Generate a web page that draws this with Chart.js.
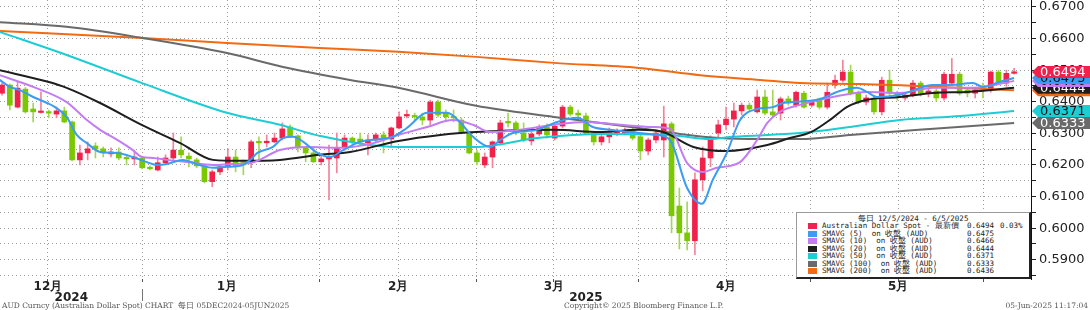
<!DOCTYPE html>
<html>
<head>
<meta charset="utf-8">
<title>AUD Curncy</title>
<script src="https://cdn.jsdelivr.net/npm/chart.js@4.4.1/dist/chart.umd.min.js"></script>
<style>
  body { margin: 0; background: #fff; }
  #wrap { position: relative; width: 1090px; height: 310px; overflow: hidden; }
  #audChart { display: block; }
  #legend { position: absolute; left: 796px; top: 212px; width: 235px; height: 67px; box-sizing: border-box; background: #fff;
    border: 1px solid #9a9a9a; border-right: 2px solid #222; border-bottom: 2px solid #222; overflow: hidden;
    font-family: 'DejaVu Sans Mono', monospace; font-size: 7.5px; color: #222; white-space: pre; }
  #legend div { position: absolute; line-height: 8px; height: 8px; }
  #legend .title { left: 0; right: 0; text-align: center; top: 2px; }
  #legend .sw { width: 9px; height: 6px; left: 11px; margin-top: 1px; }
  .foot { position: absolute; top: 301px; font-family: 'DejaVu Serif', serif; font-size: 7.5px; color: #555; white-space: pre; line-height: 9px; }
</style>
</head>
<body>
<div id="wrap">
  <canvas id="audChart" width="1090" height="310"></canvas>
  <div id="legend"></div>
  <div class="foot" style="left:2px">AUD Curncy (Australian Dollar Spot) CHART  每日 05DEC2024-05JUN2025</div>
  <div class="foot" style="left:564px">Copyright© 2025 Bloomberg Finance L.P.</div>
  <div class="foot" style="right:2px">05-Jun-2025 11:17:04</div>
</div>
<script>
// daily candles, 5 Dec 2024 .. 5 Jun 2025 (index = trading day) : [open, high, low, close]
const audOHLC = [
  [0.6427, 0.6459, 0.6421, 0.6453], [0.6453, 0.6456, 0.6374, 0.6389], [0.6383, 0.6462, 0.6380, 0.6443],
  [0.6440, 0.6445, 0.6364, 0.6368], [0.6377, 0.6396, 0.6336, 0.6368], [0.6366, 0.6431, 0.6364, 0.6370],
  [0.6368, 0.6374, 0.6349, 0.6364], [0.6361, 0.6383, 0.6349, 0.6371], [0.6371, 0.6383, 0.6333, 0.6336],
  [0.6336, 0.6339, 0.6213, 0.6216], [0.6216, 0.6263, 0.6200, 0.6238], [0.6238, 0.6273, 0.6216, 0.6251],
  [0.6260, 0.6270, 0.6222, 0.6251], [0.6251, 0.6257, 0.6225, 0.6238], [0.6235, 0.6254, 0.6225, 0.6241],
  [0.6241, 0.6254, 0.6216, 0.6222], [0.6222, 0.6232, 0.6200, 0.6219], [0.6219, 0.6247, 0.6200, 0.6225],
  [0.6222, 0.6228, 0.6187, 0.6191], [0.6191, 0.6197, 0.6184, 0.6188], [0.6184, 0.6225, 0.6181, 0.6207],
  [0.6207, 0.6232, 0.6204, 0.6222], [0.6222, 0.6301, 0.6216, 0.6247], [0.6247, 0.6289, 0.6222, 0.6232],
  [0.6228, 0.6238, 0.6194, 0.6219], [0.6216, 0.6222, 0.6191, 0.6197], [0.6197, 0.6200, 0.6143, 0.6147],
  [0.6147, 0.6184, 0.6131, 0.6178], [0.6178, 0.6200, 0.6169, 0.6194], [0.6194, 0.6251, 0.6184, 0.6225],
  [0.6225, 0.6247, 0.6178, 0.6194], [0.6210, 0.6216, 0.6169, 0.6200], [0.6210, 0.6279, 0.6191, 0.6273],
  [0.6273, 0.6289, 0.6216, 0.6270], [0.6270, 0.6295, 0.6257, 0.6275], [0.6273, 0.6301, 0.6270, 0.6285],
  [0.6285, 0.6333, 0.6279, 0.6314], [0.6320, 0.6327, 0.6289, 0.6292], [0.6292, 0.6295, 0.6241, 0.6254],
  [0.6254, 0.6257, 0.6210, 0.6238], [0.6238, 0.6254, 0.6207, 0.6210], [0.6210, 0.6232, 0.6200, 0.6219],
  [0.6219, 0.6263, 0.6089, 0.6225], [0.6222, 0.6301, 0.6175, 0.6254], [0.6254, 0.6295, 0.6247, 0.6285],
  [0.6285, 0.6289, 0.6254, 0.6273], [0.6282, 0.6301, 0.6263, 0.6273], [0.6270, 0.6295, 0.6232, 0.6279],
  [0.6279, 0.6301, 0.6270, 0.6295], [0.6295, 0.6305, 0.6238, 0.6282], [0.6282, 0.6320, 0.6257, 0.6317],
  [0.6317, 0.6368, 0.6314, 0.6352], [0.6355, 0.6374, 0.6349, 0.6358], [0.6355, 0.6364, 0.6342, 0.6352],
  [0.6352, 0.6364, 0.6327, 0.6342], [0.6342, 0.6405, 0.6327, 0.6399], [0.6399, 0.6405, 0.6352, 0.6358],
  [0.6364, 0.6374, 0.6342, 0.6352], [0.6352, 0.6374, 0.6336, 0.6349], [0.6342, 0.6349, 0.6298, 0.6301],
  [0.6301, 0.6305, 0.6235, 0.6238], [0.6238, 0.6247, 0.6200, 0.6210], [0.6200, 0.6238, 0.6191, 0.6225],
  [0.6225, 0.6276, 0.6191, 0.6273], [0.6270, 0.6342, 0.6263, 0.6333], [0.6336, 0.6364, 0.6320, 0.6333],
  [0.6333, 0.6339, 0.6295, 0.6301], [0.6301, 0.6333, 0.6273, 0.6279], [0.6276, 0.6305, 0.6263, 0.6298],
  [0.6298, 0.6327, 0.6292, 0.6320], [0.6320, 0.6330, 0.6285, 0.6295], [0.6285, 0.6330, 0.6279, 0.6323],
  [0.6323, 0.6389, 0.6317, 0.6383], [0.6383, 0.6389, 0.6355, 0.6361], [0.6364, 0.6374, 0.6342, 0.6358],
  [0.6355, 0.6364, 0.6298, 0.6301], [0.6301, 0.6305, 0.6263, 0.6273], [0.6273, 0.6298, 0.6263, 0.6289],
  [0.6289, 0.6317, 0.6270, 0.6301], [0.6301, 0.6314, 0.6292, 0.6305], [0.6301, 0.6317, 0.6295, 0.6307],
  [0.6310, 0.6320, 0.6279, 0.6285], [0.6289, 0.6295, 0.6216, 0.6244], [0.6244, 0.6285, 0.6232, 0.6279],
  [0.6279, 0.6310, 0.6270, 0.6301], [0.6279, 0.6386, 0.6225, 0.6330], [0.6330, 0.6336, 0.5985, 0.6039],
  [0.6070, 0.6127, 0.5934, 0.5985], [0.5985, 0.6083, 0.5931, 0.5960], [0.5960, 0.6175, 0.5916, 0.6153],
  [0.6153, 0.6257, 0.6118, 0.6222], [0.6222, 0.6292, 0.6194, 0.6279], [0.6301, 0.6342, 0.6285, 0.6327],
  [0.6327, 0.6383, 0.6311, 0.6345], [0.6345, 0.6396, 0.6320, 0.6371], [0.6371, 0.6396, 0.6358, 0.6389],
  [0.6389, 0.6396, 0.6371, 0.6377], [0.6368, 0.6437, 0.6364, 0.6415], [0.6415, 0.6437, 0.6358, 0.6364],
  [0.6368, 0.6437, 0.6349, 0.6358], [0.6364, 0.6415, 0.6342, 0.6409], [0.6409, 0.6418, 0.6389, 0.6396],
  [0.6389, 0.6434, 0.6383, 0.6430], [0.6427, 0.6434, 0.6380, 0.6383], [0.6389, 0.6405, 0.6383, 0.6399],
  [0.6409, 0.6412, 0.6377, 0.6383], [0.6383, 0.6459, 0.6377, 0.6430], [0.6453, 0.6484, 0.6443, 0.6468],
  [0.6468, 0.6532, 0.6462, 0.6494], [0.6494, 0.6516, 0.6421, 0.6427], [0.6427, 0.6434, 0.6393, 0.6399],
  [0.6399, 0.6421, 0.6390, 0.6412], [0.6412, 0.6418, 0.6361, 0.6368], [0.6368, 0.6478, 0.6358, 0.6468],
  [0.6468, 0.6500, 0.6418, 0.6427], [0.6427, 0.6434, 0.6405, 0.6418], [0.6412, 0.6430, 0.6405, 0.6421],
  [0.6421, 0.6468, 0.6415, 0.6459], [0.6459, 0.6465, 0.6418, 0.6427], [0.6427, 0.6443, 0.6415, 0.6434],
  [0.6434, 0.6440, 0.6402, 0.6412], [0.6412, 0.6494, 0.6405, 0.6487], [0.6459, 0.6537, 0.6453, 0.6487],
  [0.6487, 0.6494, 0.6421, 0.6427], [0.6437, 0.6443, 0.6415, 0.6427], [0.6427, 0.6446, 0.6412, 0.6437],
  [0.6438, 0.6459, 0.6412, 0.6435], [0.6437, 0.6497, 0.6430, 0.6494], [0.6494, 0.6500, 0.6453, 0.6459],
  [0.6459, 0.6500, 0.6449, 0.6490], [0.6490, 0.6506, 0.6487, 0.6494]
];

const sma5 = [
  [-0.3, 0.6469], [1.0, 0.6447], [2.3, 0.6437], [4.0, 0.6415], [5.8, 0.6396], [6.8, 0.6383], [8.3, 0.6352],
  [9.6, 0.6295], [10.9, 0.6269], [12.6, 0.6241], [14.8, 0.6238], [16.8, 0.6225], [18.6, 0.6209], [19.9, 0.6200],
  [21.2, 0.6203], [23.2, 0.6216], [25.4, 0.6200], [27.1, 0.6191], [28.9, 0.6194], [30.6, 0.6197], [31.9, 0.6216],
  [32.8, 0.6238], [34.8, 0.6257], [36.1, 0.6285], [37.4, 0.6289], [38.7, 0.6273], [40.5, 0.6238], [42.1, 0.6225],
  [43.8, 0.6247], [46.0, 0.6273], [48.6, 0.6282], [50.2, 0.6289], [52.0, 0.6317], [54.6, 0.6365], [57.2, 0.6365],
  [58.8, 0.6336], [60.5, 0.6289], [62.7, 0.6257], [64.0, 0.6279], [65.6, 0.6301], [68.7, 0.6311], [71.3, 0.6336],
  [73.9, 0.6349], [75.9, 0.6320], [78.1, 0.6311], [80.7, 0.6304], [84.1, 0.6295], [85.8, 0.6279], [88.0, 0.6127],
  [89.9, 0.6077], [91.3, 0.6153], [93.1, 0.6238], [94.8, 0.6342], [97.0, 0.6377], [99.0, 0.6383], [100.3, 0.6396],
  [104.7, 0.6406], [107.6, 0.6434], [109.8, 0.6444], [111.1, 0.6431], [112.4, 0.6415], [115.3, 0.6422],
  [119.6, 0.6453], [121.8, 0.6453], [124.7, 0.6459], [126.0, 0.6447], [128.2, 0.6463], [130, 0.6475]
];
const sma10 = [
  [-0.3, 0.6484], [4.0, 0.6447], [8.3, 0.6399], [10.9, 0.6342], [12.6, 0.6311], [14.8, 0.6279], [16.8, 0.6247],
  [18.0, 0.6225], [19.4, 0.6222], [21.2, 0.6216], [23.8, 0.6209], [27.1, 0.6200], [29.7, 0.6203], [31.9, 0.6206],
  [35.7, 0.6247], [39.2, 0.6257], [43.4, 0.6254], [47.7, 0.6269], [50.9, 0.6295], [54.6, 0.6320], [57.9, 0.6342],
  [60.5, 0.6327], [62.7, 0.6304], [66.5, 0.6311], [70.8, 0.6327], [75.1, 0.6336], [79.4, 0.6327], [83.6, 0.6320],
  [85.8, 0.6314], [88.0, 0.6206], [90.0, 0.6178], [91.8, 0.6191], [94.8, 0.6209], [97.0, 0.6279], [98.3, 0.6333],
  [99.9, 0.6368], [102.5, 0.6390], [106.7, 0.6415], [111.1, 0.6431], [115.3, 0.6428], [119.6, 0.6444],
  [124.0, 0.6444], [126.0, 0.6447], [130, 0.6466]
];
const sma20 = [
  [-0.3, 0.6500], [5.9, 0.6463], [8.3, 0.6444], [12.6, 0.6396], [18.0, 0.6326], [22.9, 0.6269], [27.1, 0.6216],
  [30.6, 0.6213], [35.7, 0.6216], [40.8, 0.6232], [44.7, 0.6241], [50.9, 0.6276], [56.3, 0.6295], [60.9, 0.6304],
  [70.9, 0.6311], [76.8, 0.6304], [81.8, 0.6311], [84.9, 0.6304], [88.8, 0.6257], [93.1, 0.6244], [98.3, 0.6263],
  [101.2, 0.6285], [103.9, 0.6304], [106.7, 0.6349], [108.5, 0.6383], [111.1, 0.6406], [115.3, 0.6415],
  [119.6, 0.6428], [124.0, 0.6431], [130, 0.6444]
];
const sma50 = [
  [-0.3, 0.6621], [8.3, 0.6548], [18.0, 0.6459], [28.9, 0.6365], [35.7, 0.6327], [40.8, 0.6292], [50.9, 0.6257],
  [60.9, 0.6257], [68.7, 0.6285], [77.2, 0.6298], [85.8, 0.6295], [90.9, 0.6282], [93.9, 0.6289], [102.5, 0.6301],
  [108.9, 0.6320], [115.3, 0.6342], [123.1, 0.6355], [130, 0.6371]
];
const sma100 = [
  [-0.3, 0.6652], [8.3, 0.6637], [18.0, 0.6602], [28.9, 0.6554], [36.1, 0.6510], [44.7, 0.6469], [50.9, 0.6444],
  [60.9, 0.6387], [70.9, 0.6352], [81.8, 0.6317], [87.1, 0.6298], [92.2, 0.6285], [97.4, 0.6282], [102.5, 0.6282],
  [108.9, 0.6295], [119.2, 0.6314], [130, 0.6333]
];
const sma200 = [
  [-0.3, 0.6624], [18.0, 0.6602], [28.9, 0.6586], [40.8, 0.6570], [50.9, 0.6558], [60.9, 0.6542], [70.9, 0.6523],
  [81.8, 0.6507], [89.7, 0.6484], [97.4, 0.6469], [102.5, 0.6459], [110.2, 0.6456], [120.5, 0.6447], [130, 0.6436]
];

const seriesNames = [
  'Australian Dollar Spot - 最新價',
  'SMAVG (5)  on 收盤 (AUD)',
  'SMAVG (10)  on 收盤 (AUD)',
  'SMAVG (20)  on 收盤 (AUD)',
  'SMAVG (50)  on 收盤 (AUD)',
  'SMAVG (100)  on 收盤 (AUD)',
  'SMAVG (200)  on 收盤 (AUD)'
];
const legendTitle = '每日 12/5/2024 - 6/5/2025';
const lastChange = '0.03%';

// axis labels
const monthLabels = ['12月', '1月', '2月', '3月', '4月', '5月'];
const yearLabels = ['2024', '2025'];
const yTickValues = [0.585, 0.590, 0.595, 0.600, 0.605, 0.610, 0.615, 0.620, 0.625,
  0.630, 0.635, 0.640, 0.645, 0.650, 0.655, 0.660, 0.665, 0.670];

// where the dotted month / mid-month lines fall on the day index axis
const midMonthAt = [5.9, 28.9, 50.9, 70.9, 93.0, 115.1];
const monthStartAt = [18.0, 40.8, 60.9, 81.8, 103.9, 126.1];
const yearMidAt = [8.9, 75.0];

const UP_BODY = '#f0214a', DOWN_BODY = '#7cc800';
const UP_WICK = '#f2849a', DOWN_WICK = '#a4d65a';
const maColors = ['#3a9cf2', '#c27cf4', '#1e1e1e', '#1ccdd4', '#6a6a6a', '#f26a12'];
const tagText = ['#fff', '#111', '#111', '#fff', '#111', '#fff', '#fff'];
const GRID = '#9c9c9c';

const isUp = i => audOHLC[i][3] >= audOHLC[i][0];

const xTicks = [
  ...midMonthAt.map((at, k) => ({ value: at, label: monthLabels[k], grid: true })),
  ...monthStartAt.map(at => ({ value: at, label: '', grid: true })),
  ...yearMidAt.map((at, k) => ({ value: at, label: ['', yearLabels[k]], grid: false }))
].sort((a, b) => a.value - b.value);

const maSets = [sma5, sma10, sma20, sma50, sma100, sma200];
const lastValues = [audOHLC[audOHLC.length - 1][3], ...maSets.map(s => s[s.length - 1][1])];
const swatchColors = [UP_BODY, ...maColors];

const datasets = [];
maSets.forEach((pts, k) => {
  datasets.push({
    type: 'line',
    label: seriesNames[k + 1],
    data: pts.map(p => ({ x: p[0], y: p[1] })),
    borderColor: maColors[k],
    borderWidth: 2,
    pointRadius: 0,
    cubicInterpolationMode: 'monotone',
    order: k
  });
});
datasets.push({
  type: 'bar',
  label: 'body',
  data: audOHLC.map((r, i) => ({ x: i, y: [r[0], r[3]] })),
  backgroundColor: c => isUp(c.dataIndex) ? UP_BODY : DOWN_BODY,
  barThickness: 5,
  minBarLength: 1.5,
  grouped: false,
  order: 10
});
datasets.push({
  type: 'bar',
  label: 'wick',
  data: audOHLC.map((r, i) => ({ x: i, y: [r[2], r[1]] })),
  backgroundColor: c => isUp(c.dataIndex) ? UP_WICK : DOWN_WICK,
  barThickness: 1,
  grouped: false,
  order: 11
});

// value tags on the price axis, highest drawn last so it sits on top
const valueTags = {
  id: 'valueTags',
  afterDraw(chart) {
    const { ctx, scales: { x, y } } = chart;
    const x0 = y.left;
    const order = lastValues.map((v, k) => k).sort((a, b) => lastValues[a] - lastValues[b]);
    ctx.save();
    order.forEach(k => {
      const py = y.getPixelForValue(lastValues[k]);
      ctx.fillStyle = swatchColors[k];
      ctx.beginPath();
      ctx.moveTo(x0 + 1, py);
      ctx.lineTo(x0 + 7, py - 6);
      ctx.lineTo(chart.width, py - 6);
      ctx.lineTo(chart.width, py + 6);
      ctx.lineTo(x0 + 7, py + 6);
      ctx.closePath();
      ctx.fill();
      ctx.fillStyle = tagText[k];
      ctx.font = '13px "DejaVu Sans"';
      ctx.textBaseline = 'middle';
      ctx.fillText(lastValues[k].toFixed(4), x0 + 9, py + 0.5);
    });
    // year divider under the axis
    const sx = Math.round(x.getPixelForValue(monthStartAt[0])) + 0.5;
    ctx.strokeStyle = '#777';
    ctx.lineWidth = 1;
    ctx.beginPath();
    ctx.moveTo(sx, 289);
    ctx.lineTo(sx, 301);
    ctx.stroke();
    ctx.restore();
  }
};

const ctx = document.getElementById('audChart').getContext('2d');
Chart.defaults.font.family = 'DejaVu Sans';

new Chart(ctx, {
  type: 'bar',
  data: { datasets: datasets },
  options: {
    responsive: false,
    animation: false,
    events: [],
    devicePixelRatio: 1,
    layout: { padding: 0, autoPadding: false },
    plugins: { legend: { display: false }, tooltip: { enabled: false } },
    scales: {
      x: {
        type: 'linear',
        min: -0.26,
        max: 132.17,
        offset: false,
        afterBuildTicks: s => { s.ticks = xTicks.map(t => ({ value: t.value })); },
        afterFit: s => { s.height = 31; s.paddingLeft = 0; s.paddingRight = 0; },
        grid: {
          offset: false,
          color: c => (xTicks[c.index] && xTicks[c.index].grid) ? GRID : 'rgba(0,0,0,0)',
          tickColor: c => (xTicks[c.index] && xTicks[c.index].grid) ? '#555' : 'rgba(0,0,0,0)',
          tickLength: 3
        },
        border: { display: false, dash: [1, 3] },
        ticks: {
          autoSkip: false,
          maxRotation: 0,
          minRotation: 0,
          padding: -1,
          color: '#222',
          font: { size: 12, weight: 'bold', lineHeight: 0.92 },
          callback: (v, i) => xTicks[i].label
        }
      },
      y: {
        type: 'linear',
        position: 'right',
        min: 0.5839,
        max: 0.6722,
        beginAtZero: false,
        afterBuildTicks: s => { s.ticks = yTickValues.map(v => ({ value: v })); },
        afterFit: s => { s.width = 59; s.paddingTop = 0; s.paddingBottom = 0; },
        grid: { color: GRID, tickLength: 5, tickColor: '#222' },
        border: { display: true, color: '#111', width: 1, dash: [1, 3] },
        ticks: {
          autoSkip: false,
          padding: 3,
          color: '#222',
          font: { size: 13 },
          callback: v => Math.round(v * 1000) % 10 === 0 ? v.toFixed(4) : ''
        }
      }
    }
  },
  plugins: [valueTags]
});

// legend box
const legend = document.getElementById('legend');
let html = '<div class="title">' + legendTitle + '</div>';
seriesNames.forEach((name, k) => {
  const top = 9 + k * 7.5;
  html += '<div class="sw" style="top:' + top + 'px;background:' + swatchColors[k] + '"></div>';
  html += '<div style="left:25px;top:' + top + 'px">' + name + '</div>';
  html += '<div style="left:170px;top:' + top + 'px">' + lastValues[k].toFixed(4) + '</div>';
  if (k === 0) html += '<div style="left:203px;top:' + top + 'px">' + lastChange + '</div>';
});
legend.innerHTML = html;
</script>
</body>
</html>
